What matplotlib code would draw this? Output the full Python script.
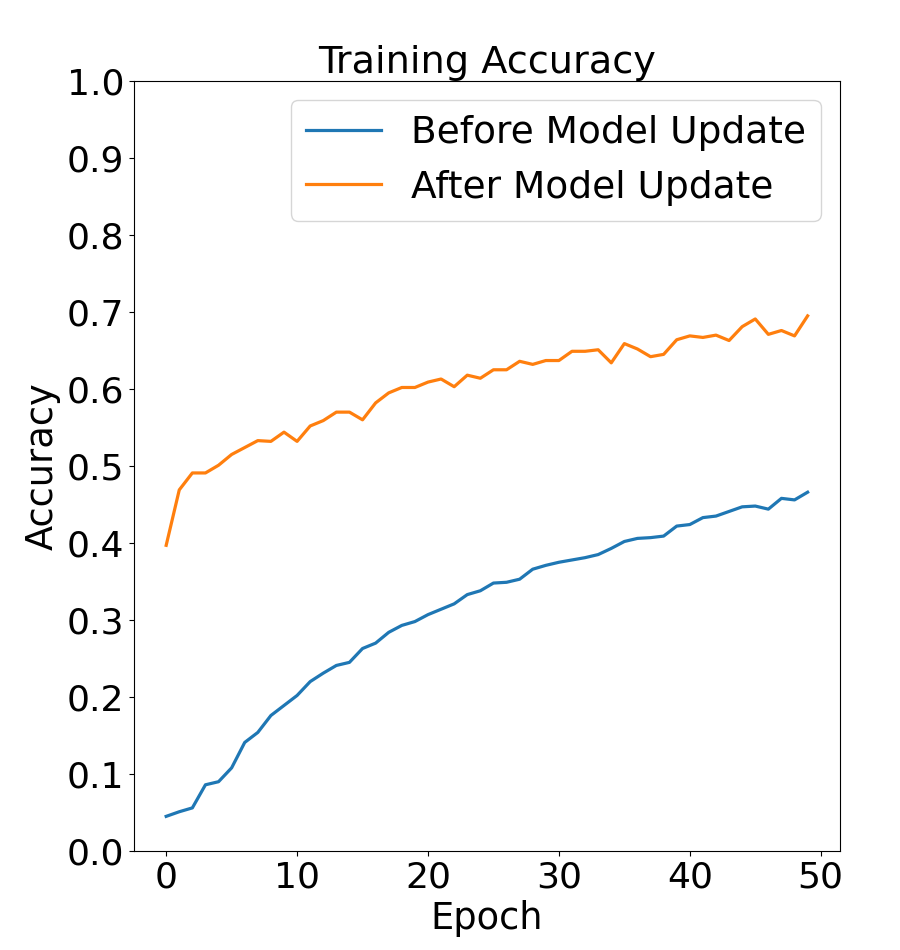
import matplotlib
matplotlib.use('Agg')
from matplotlib import pyplot as plt
import numpy as np

# accuracy per epoch
before_update = [0.045, 0.051, 0.056, 0.086, 0.090, 0.108, 0.141, 0.154, 0.176, 0.189,
                 0.202, 0.220, 0.231, 0.241, 0.245, 0.263, 0.270, 0.284, 0.293, 0.298,
                 0.307, 0.314, 0.321, 0.333, 0.338, 0.348, 0.349, 0.353, 0.366, 0.371,
                 0.375, 0.378, 0.381, 0.385, 0.393, 0.402, 0.406, 0.407, 0.409, 0.422,
                 0.424, 0.433, 0.435, 0.441, 0.447, 0.448, 0.444, 0.458, 0.456, 0.466]
after_update = [0.397, 0.469, 0.491, 0.491, 0.501, 0.515, 0.524, 0.533, 0.532, 0.544,
                0.532, 0.552, 0.559, 0.570, 0.570, 0.560, 0.582, 0.595, 0.602, 0.602,
                0.609, 0.613, 0.603, 0.618, 0.614, 0.625, 0.625, 0.636, 0.632, 0.637,
                0.637, 0.649, 0.649, 0.651, 0.634, 0.659, 0.652, 0.642, 0.645, 0.664,
                0.669, 0.667, 0.670, 0.663, 0.681, 0.691, 0.671, 0.676, 0.669, 0.695]
epochs = np.arange(len(before_update))

fig = plt.figure(figsize=(9, 9.5), dpi=100)
fig.subplots_adjust(left=0.149, right=0.933, top=0.9147, bottom=0.1042)
ax = fig.add_subplot(111)

ax.plot(epochs, before_update, color='#1f77b4', lw=2.3, label='Before Model Update')
ax.plot(epochs, after_update, color='#ff7f0e', lw=2.3, label='After Model Update')

ax.set_ylim(0, 1)
ax.set_yticks(np.arange(0, 1.01, 0.1))
ax.set_xticks([0, 10, 20, 30, 40, 50])
ax.tick_params(labelsize=26)
ax.set_title('Training Accuracy', fontsize=27.5)
ax.set_xlabel('Epoch', fontsize=26.5)
ax.set_ylabel('Accuracy', fontsize=26.5)
ax.legend(loc='upper right', fontsize=27)

fig.savefig('out.png', dpi=100)
